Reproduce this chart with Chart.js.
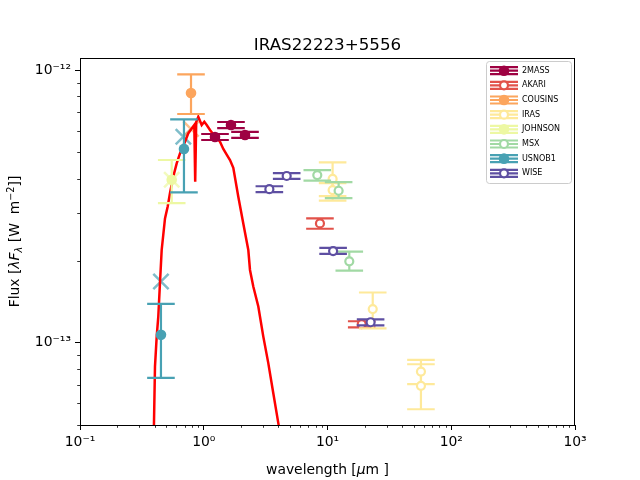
<!DOCTYPE html>
<html><head><meta charset="utf-8">
<script src="https://cdn.jsdelivr.net/npm/chart.js@4.4.1/dist/chart.umd.min.js"></script>
<style>html,body{margin:0;padding:0;background:#fff;} canvas{display:block;}</style>
</head><body>
<canvas id="c" width="640" height="480"></canvas>
<script>
const titleText = 'IRAS22223+5556';
const surveyNames = ['2MASS','AKARI','COUSINS','IRAS','JOHNSON','MSX','USNOB1','WISE'];
const surveyColors = ['#9e0142','#e2524a','#fca55d','#fee99a','#edf8a3','#a1d9a4','#48a1b3','#5e4fa2'];
const surveyFilled = [true,false,true,false,true,false,true,false];

// model SED (wavelength in micron, lambda F_lambda in W m^-2)
const sedWave = [0.3926,0.4036,0.4166,0.4292,0.4429,0.4571,0.4863,0.5113,0.5337,0.5675,0.6044,0.6428,0.7055,0.7503,0.7992,0.8388,0.8529,0.8690,0.9036,0.9625,1.0102,1.0564,1.1232,1.2328,1.353,1.439,1.541,1.630,1.733,1.902,2.087,2.291,2.364,2.514,2.760,3.029,3.323,3.648,4.004,4.289];
const sedFlux = [4.06e-14,8.19e-14,1.054e-13,1.248e-13,1.66e-13,2.19e-13,2.86e-13,3.16e-13,3.54e-13,4.07e-13,4.55e-13,4.95e-13,5.46e-13,5.86e-13,6.11e-13,6.29e-13,3.90e-13,6.45e-13,6.74e-13,6.29e-13,6.46e-13,6.29e-13,6.03e-13,5.70e-13,5.46e-13,5.14e-13,4.88e-13,4.68e-13,4.38e-13,3.43e-13,2.74e-13,2.19e-13,1.85e-13,1.61e-13,1.36e-13,1.054e-13,8.43e-14,6.54e-14,5.08e-14,4.23e-14];

// photometry per survey
const wave2MASS = [1.233,1.66,2.155];
const flux2MASS = [5.68e-13,6.29e-13,5.78e-13];
const lo2MASS = [5.54e-13,6.13e-13,5.64e-13];
const hi2MASS = [5.83e-13,6.45e-13,5.93e-13];

const waveAKARI = [8.69,18.9];
const fluxAKARI = [2.74e-13,1.17e-13];
const loAKARI = [2.62e-13,1.14e-13];
const hiAKARI = [2.86e-13,1.20e-13];

const waveCOUSINS = [0.789];
const fluxCOUSINS = [8.24e-13];
const loCOUSINS = [6.90e-13];
const hiCOUSINS = [9.64e-13];

const waveIRAS = [11.0,11.0,23.2,56.9,56.9];
const fluxIRAS = [3.99e-13,3.63e-13,1.33e-13,7.85e-14,6.96e-14];
const loIRAS = [3.45e-13,3.32e-13,1.13e-13,7.06e-14,5.71e-14];
const hiIRAS = [4.59e-13,3.85e-13,1.53e-13,8.67e-14,8.35e-14];

const waveJOHNSON = [0.551];
const fluxJOHNSON = [3.96e-13];
const loJOHNSON = [3.25e-13];
const hiJOHNSON = [4.68e-13];

const waveMSX = [8.27,12.3,15.0];
const fluxMSX = [4.12e-13,3.61e-13,1.99e-13];
const loMSX = [3.93e-13,3.39e-13,1.84e-13];
const hiMSX = [4.30e-13,3.88e-13,2.16e-13];

const waveUSNOB1 = [0.692,0.451];
const fluxUSNOB1 = [5.14e-13,1.07e-13];
const loUSNOB1 = [3.56e-13,7.44e-14];
const hiUSNOB1 = [6.60e-13,1.39e-13];

const waveWISE = [3.39,4.68,11.1,22.3];
const fluxWISE = [3.66e-13,4.09e-13,2.17e-13,1.19e-13];
const loWISE = [3.57e-13,3.99e-13,2.12e-13,1.16e-13];
const hiWISE = [3.75e-13,4.19e-13,2.23e-13,1.22e-13];

// cross markers
const crossWave = [0.451,0.684,0.551,0.789];
const crossFlux = [1.68e-13,5.70e-13,3.96e-13,6.08e-13];
const crossSurvey = [6,6,4,2];

// axes
const xMin = 0.1, xMax = 1000, yMin = 5.0e-14, yMax = 1.107e-12;
const xTickValues = [0.1,1,10,100,1000];
const xTickLabels = ['10\u207B\u00B9','10\u2070','10\u00B9','10\u00B2','10\u00B3'];
const yTickValues = [1e-13,1e-12];
const yTickLabels = ['10\u207B\u00B9\u00B3','10\u207B\u00B9\u00B2'];

const surveyWave = [wave2MASS,waveAKARI,waveCOUSINS,waveIRAS,waveJOHNSON,waveMSX,waveUSNOB1,waveWISE];
const surveyFlux = [flux2MASS,fluxAKARI,fluxCOUSINS,fluxIRAS,fluxJOHNSON,fluxMSX,fluxUSNOB1,fluxWISE];
const surveyLo = [lo2MASS,loAKARI,loCOUSINS,loIRAS,loJOHNSON,loMSX,loUSNOB1,loWISE];
const surveyHi = [hi2MASS,hiAKARI,hiCOUSINS,hiIRAS,hiJOHNSON,hiMSX,hiUSNOB1,hiWISE];

const FONT = 'DejaVu Sans';
const CAP = 13.8;

function hexA(hex, a){
  const r=parseInt(hex.slice(1,3),16),g=parseInt(hex.slice(3,5),16),b=parseInt(hex.slice(5,7),16);
  return `rgba(${r},${g},${b},${a})`;
}

const datasets = [];
datasets.push({
  label:'cross', data: crossWave.map((w,i)=>({x:w,y:crossFlux[i]})),
  pointStyle:'crossRot', pointRadius:10.8, pointBorderWidth:2.5,
  pointBorderColor: crossSurvey.map(s=>hexA(surveyColors[s],0.7)),
  pointBackgroundColor:'rgba(0,0,0,0)', showLine:false, order:30
});
datasets.push({
  label:'model', data: sedWave.map((w,i)=>({x:w,y:sedFlux[i]})),
  showLine:true, borderColor:'#ff0000', borderWidth:2.5, pointRadius:0, tension:0, fill:false, order:20
});
surveyNames.forEach((n,i)=>{
  const filled = surveyFilled[i];
  datasets.push({
    label:n, data: surveyWave[i].map((w,j)=>({x:w,y:surveyFlux[i][j]})),
    errLo: surveyLo[i], errHi: surveyHi[i], errColor: surveyColors[i],
    showLine:false, pointStyle:'circle',
    pointRadius: filled?5.3:4.0, pointBorderWidth: filled?0:2.2,
    pointBackgroundColor: filled?surveyColors[i]:'#ffffff',
    pointBorderColor: surveyColors[i], order: 8-i
  });
});

function drawMarker(ctx, x, y, i){
  ctx.beginPath();
  if(surveyFilled[i]){
    ctx.arc(x,y,5.3,0,Math.PI*2); ctx.fillStyle=surveyColors[i]; ctx.fill();
  } else {
    ctx.arc(x,y,4.0,0,Math.PI*2); ctx.fillStyle='#fff'; ctx.fill();
    ctx.lineWidth=2.2; ctx.strokeStyle=surveyColors[i]; ctx.stroke();
  }
}

const errorBarPlugin = {
  id:'errbars',
  beforeDatasetDraw(chart, args){
    const ds = chart.data.datasets[args.index];
    if(!ds.errLo) return;
    const xs = chart.scales.x, ys = chart.scales.y, a = chart.chartArea, ctx = chart.ctx;
    ctx.save();
    ctx.beginPath(); ctx.rect(a.left,a.top,a.right-a.left,a.bottom-a.top); ctx.clip();
    ctx.strokeStyle = ds.errColor; ctx.lineWidth = 2.2;
    ds.data.forEach((p,i)=>{
      const x = xs.getPixelForValue(p.x);
      const y1 = ys.getPixelForValue(ds.errLo[i]), y2 = ys.getPixelForValue(ds.errHi[i]);
      ctx.beginPath();
      ctx.moveTo(x,y1); ctx.lineTo(x,y2);
      ctx.moveTo(x-CAP,y1); ctx.lineTo(x+CAP,y1);
      ctx.moveTo(x-CAP,y2); ctx.lineTo(x+CAP,y2);
      ctx.stroke();
    });
    ctx.restore();
  }
};

function drawPieces(ctx, pieces, cx, cy){
  let total = 0;
  pieces.forEach(p=>{ ctx.font=p.f; p.w = ctx.measureText(p.t).width; total += p.w; });
  let x = cx - total/2;
  pieces.forEach(p=>{ ctx.font=p.f; ctx.fillText(p.t, x, cy + (p.dy||0)); x += p.w; });
}

const decorPlugin = {
  id:'decor',
  afterDraw(chart){
    const ctx = chart.ctx, a = chart.chartArea, xs = chart.scales.x, ys = chart.scales.y;
    ctx.save();
    // frame
    ctx.strokeStyle='#000'; ctx.lineWidth=1;
    ctx.strokeRect(Math.round(a.left)+0.5, Math.round(a.top)+0.5, Math.round(a.right-a.left)-1, Math.round(a.bottom-a.top));
    // minor ticks
    ctx.lineWidth=0.8;
    ctx.beginPath();
    for(let e=-1;e<3;e++){
      for(let k=2;k<10;k++){
        const v=k*Math.pow(10,e);
        const px=Math.round(xs.getPixelForValue(v))+0.5;
        ctx.moveTo(px,a.bottom); ctx.lineTo(px,a.bottom+2.8);
      }
    }
    for(let e=-14;e<-11;e++){
      for(let k=2;k<10;k++){
        const v=k*Math.pow(10,e);
        if(v<yMin||v>yMax) continue;
        const py=Math.round(ys.getPixelForValue(v))+0.5;
        ctx.moveTo(a.left,py); ctx.lineTo(a.left-2.8,py);
      }
    }
    ctx.stroke();
    // title
    ctx.fillStyle='#000'; ctx.textAlign='center'; ctx.textBaseline='alphabetic';
    ctx.font='16.7px '+FONT;
    ctx.fillText(titleText,(a.left+a.right)/2,50);
    // x label
    ctx.textAlign='left';
    drawPieces(ctx,[
      {t:'wavelength [',f:'13.9px '+FONT},
      {t:'\u03BC',f:'italic 13.9px '+FONT},
      {t:'m ]',f:'13.9px '+FONT}
    ],(a.left+a.right)/2,474);
    // y label
    ctx.save();
    ctx.translate(19,(a.top+a.bottom)/2);
    ctx.rotate(-Math.PI/2);
    drawPieces(ctx,[
      {t:'Flux [',f:'13.9px '+FONT},
      {t:'\u03BBF',f:'italic 13.9px '+FONT},
      {t:'\u03BB',f:'italic 9.7px '+FONT,dy:2.8},
      {t:' [W  m',f:'13.9px '+FONT},
      {t:'\u22122',f:'9.7px '+FONT,dy:-5.5},
      {t:']]',f:'13.9px '+FONT}
    ],0,0);
    ctx.restore();
    // legend
    const L=486.5,T=61.5,W=85,H=122,r=3;
    ctx.beginPath();
    ctx.moveTo(L+r,T); ctx.lineTo(L+W-r,T); ctx.quadraticCurveTo(L+W,T,L+W,T+r);
    ctx.lineTo(L+W,T+H-r); ctx.quadraticCurveTo(L+W,T+H,L+W-r,T+H);
    ctx.lineTo(L+r,T+H); ctx.quadraticCurveTo(L,T+H,L,T+H-r);
    ctx.lineTo(L,T+r); ctx.quadraticCurveTo(L,T,L+r,T); ctx.closePath();
    ctx.fillStyle='rgba(255,255,255,0.8)'; ctx.fill();
    ctx.strokeStyle='#cccccc'; ctx.lineWidth=1; ctx.stroke();
    surveyNames.forEach((n,i)=>{
      const y = 70.7 + i*14.66;
      ctx.strokeStyle=surveyColors[i]; ctx.lineWidth=2.2;
      ctx.beginPath();
      ctx.moveTo(490,y); ctx.lineTo(518,y);
      ctx.moveTo(490,y-3.5); ctx.lineTo(518,y-3.5);
      ctx.moveTo(490,y+3.5); ctx.lineTo(518,y+3.5);
      ctx.stroke();
      drawMarker(ctx,504,y,i);
      ctx.fillStyle='#000'; ctx.font='8px '+FONT; ctx.textAlign='left'; ctx.textBaseline='middle';
      ctx.fillText(n,522,y);
    });
    ctx.restore();
  }
};

new Chart(document.getElementById('c'),{
  type:'scatter',
  data:{datasets},
  options:{
    responsive:false, animation:false, devicePixelRatio:1,
    layout:{padding:{left:0,top:58,right:65,bottom:0}},
    plugins:{legend:{display:false},tooltip:{enabled:false},title:{display:false}},
    scales:{
      x:{type:'logarithmic',position:'bottom',min:xMin,max:xMax,
        afterFit:(s)=>{s.height=55;},
        afterBuildTicks:(s)=>{s.ticks=xTickValues.map(v=>({value:v}));},
        grid:{display:true,drawOnChartArea:false,tickLength:5,color:'#000',lineWidth:1},
        border:{display:false},
        ticks:{autoSkip:false,maxRotation:0,padding:4,color:'#000',font:{family:FONT,size:13.9},
          callback:(v,i)=>xTickLabels[i]}
      },
      y:{type:'logarithmic',position:'left',min:yMin,max:yMax,
        afterFit:(s)=>{s.width=80;},
        afterBuildTicks:(s)=>{s.ticks=yTickValues.map(v=>({value:v}));},
        grid:{display:true,drawOnChartArea:false,tickLength:5,color:'#000',lineWidth:1},
        border:{display:false},
        ticks:{autoSkip:false,padding:4,color:'#000',font:{family:FONT,size:13.9},
          callback:(v,i)=>yTickLabels[i]}
      }
    }
  },
  plugins:[errorBarPlugin,decorPlugin]
});
</script>
</body></html>
